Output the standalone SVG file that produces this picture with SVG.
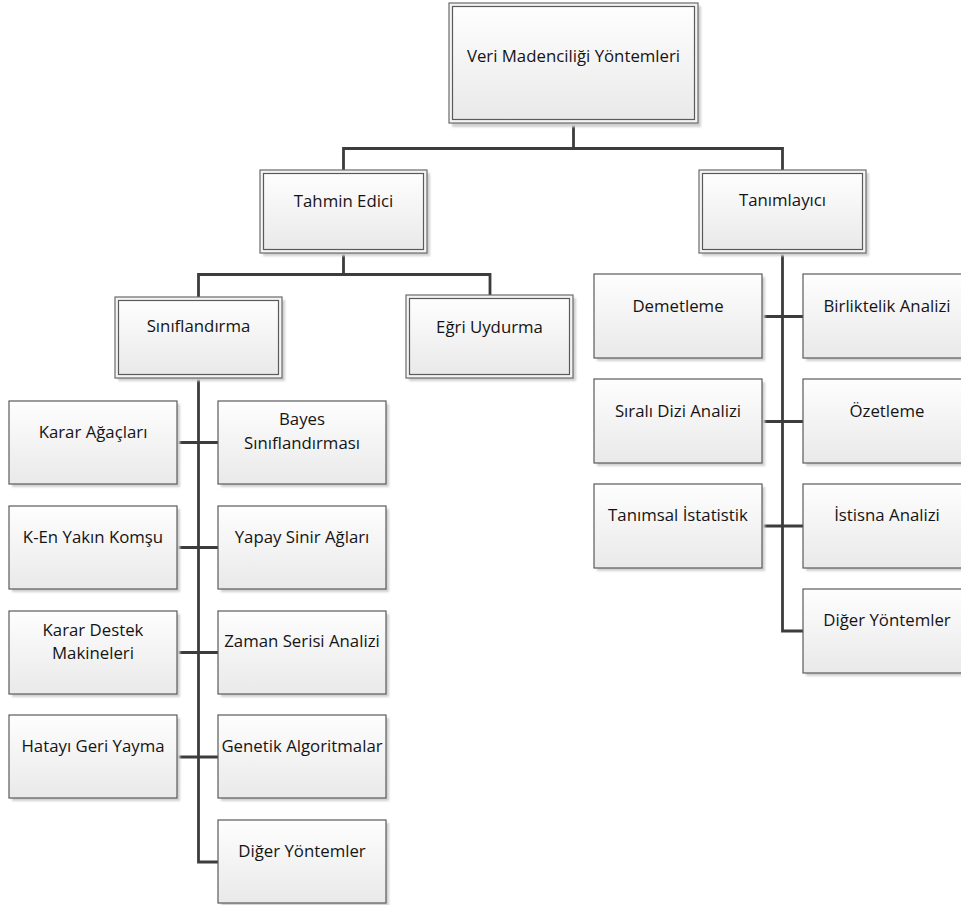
<svg xmlns="http://www.w3.org/2000/svg" width="961" height="905" viewBox="0 0 961 905">
  <defs>
    <linearGradient id="boxFill" x1="0" y1="0" x2="0" y2="1">
      <stop offset="0" stop-color="#fefefe"/>
      <stop offset="1" stop-color="#e9e9e9"/>
    </linearGradient>
    <filter id="soft" x="-10%" y="-10%" width="130%" height="130%">
      <feGaussianBlur stdDeviation="1"/>
    </filter>
  </defs>
  <style>
    .shadow { fill: #cfcfcf; filter: url(#soft); }
    .box { fill: url(#boxFill); stroke: #5a5a5a; stroke-width: 1.2; }
    .outer { fill: #f4f4f4; stroke: #6a6a6a; stroke-width: 1.2; }
    .inner { fill: url(#boxFill); stroke: #5a5a5a; stroke-width: 1.2; }
    .lbl { font-family: "Open Sans", "Noto Sans", sans-serif; font-size: 16.8px; fill: #141414; text-anchor: middle; }
    .wire { fill: none; stroke: #3c3c3c; stroke-width: 2.8; stroke-linejoin: miter; }
  </style>

  <rect width="961" height="905" fill="#ffffff"/>

  <!-- connectors -->
  <g id="connectors">
    <path class="wire" d="M573.5 123 V148.5 M343.5 148.5 H782.5 M343.5 147 V170 M782.5 147 V170"/>
    <path class="wire" d="M343.5 253 V274.5 M198.5 274.5 H490 M198.5 273 V297 M490 273 V295"/>
    <path class="wire" d="M198.5 378 V862 H218 M177 442.5 H218 M177 547.5 H218 M177 652.5 H218 M177 757 H218"/>
    <path class="wire" d="M782.5 253 V631 H803 M762 316.5 H803 M762 421.5 H803 M762 526 H803"/>
  </g>

  <!-- top level -->
  <g id="n-root">
    <rect class="shadow" x="452" y="6" width="249" height="121"/>
    <rect class="outer" x="449" y="3" width="249" height="120"/>
    <rect class="inner" x="452.5" y="6.5" width="242" height="113"/>
    <text class="lbl" x="573.5" y="62">Veri Madenciliği Yöntemleri</text>
  </g>

  <!-- second level -->
  <g id="n-tahmin">
    <rect class="shadow" x="263" y="173" width="167" height="83"/>
    <rect class="outer" x="260" y="170" width="167" height="83"/>
    <rect class="inner" x="263.5" y="173.5" width="160" height="76"/>
    <text class="lbl" x="343.5" y="207">Tahmin Edici</text>
  </g>
  <g id="n-tanimlayici">
    <rect class="shadow" x="702" y="173" width="167" height="83"/>
    <rect class="outer" x="699" y="170" width="167" height="83"/>
    <rect class="inner" x="702.5" y="173.5" width="160" height="76"/>
    <text class="lbl" x="782.5" y="206">Tanımlayıcı</text>
  </g>

  <!-- third level -->
  <g id="n-siniflandirma">
    <rect class="shadow" x="118" y="300" width="167" height="81"/>
    <rect class="outer" x="115" y="297" width="167" height="81"/>
    <rect class="inner" x="118.5" y="300.5" width="160" height="74"/>
    <text class="lbl" x="198.5" y="332">Sınıflandırma</text>
  </g>
  <g id="n-egri">
    <rect class="shadow" x="409" y="298" width="167" height="83"/>
    <rect class="outer" x="406" y="295" width="167" height="83"/>
    <rect class="inner" x="409.5" y="298.5" width="160" height="76"/>
    <text class="lbl" x="489.5" y="333">Eğri Uydurma</text>
  </g>

  <!-- classification methods, left column -->
  <g id="n-karar-agaclari">
    <rect class="shadow" x="12" y="404" width="168" height="83"/>
    <rect class="box" x="9" y="401" width="168" height="83"/>
    <text class="lbl" x="93" y="437.5">Karar Ağaçları</text>
  </g>
  <g id="n-k-en-yakin">
    <rect class="shadow" x="12" y="509" width="168" height="83"/>
    <rect class="box" x="9" y="506" width="168" height="83"/>
    <text class="lbl" x="93" y="542.5">K-En Yakın Komşu</text>
  </g>
  <g id="n-karar-destek">
    <rect class="shadow" x="12" y="614" width="168" height="83"/>
    <rect class="box" x="9" y="611" width="168" height="83"/>
    <text class="lbl" x="93" y="636">Karar Destek</text>
    <text class="lbl" x="93" y="659">Makineleri</text>
  </g>
  <g id="n-hatayi">
    <rect class="shadow" x="12" y="718" width="168" height="83"/>
    <rect class="box" x="9" y="715" width="168" height="83"/>
    <text class="lbl" x="93" y="751.5">Hatayı Geri Yayma</text>
  </g>

  <!-- classification methods, right column -->
  <g id="n-bayes">
    <rect class="shadow" x="221" y="404" width="168" height="83"/>
    <rect class="box" x="218" y="401" width="168" height="83"/>
    <text class="lbl" x="302" y="425">Bayes</text>
    <text class="lbl" x="302" y="449">Sınıflandırması</text>
  </g>
  <g id="n-yapay">
    <rect class="shadow" x="221" y="509" width="168" height="83"/>
    <rect class="box" x="218" y="506" width="168" height="83"/>
    <text class="lbl" x="302" y="542.5">Yapay Sinir Ağları</text>
  </g>
  <g id="n-zaman">
    <rect class="shadow" x="221" y="614" width="168" height="83"/>
    <rect class="box" x="218" y="611" width="168" height="83"/>
    <text class="lbl" x="302" y="647">Zaman Serisi Analizi</text>
  </g>
  <g id="n-genetik">
    <rect class="shadow" x="221" y="718" width="168" height="83"/>
    <rect class="box" x="218" y="715" width="168" height="83"/>
    <text class="lbl" x="302" y="751.5">Genetik Algoritmalar</text>
  </g>
  <g id="n-diger-1">
    <rect class="shadow" x="221" y="823" width="168" height="83"/>
    <rect class="box" x="218" y="820" width="168" height="83"/>
    <text class="lbl" x="302" y="856.5">Diğer Yöntemler</text>
  </g>

  <!-- descriptive methods, left column -->
  <g id="n-demetleme">
    <rect class="shadow" x="597" y="277" width="168" height="84"/>
    <rect class="box" x="594" y="274" width="168" height="84"/>
    <text class="lbl" x="678" y="311.5">Demetleme</text>
  </g>
  <g id="n-sirali">
    <rect class="shadow" x="597" y="382" width="168" height="84"/>
    <rect class="box" x="594" y="379" width="168" height="84"/>
    <text class="lbl" x="678" y="416.5">Sıralı Dizi Analizi</text>
  </g>
  <g id="n-tanimsal">
    <rect class="shadow" x="597" y="487" width="168" height="84"/>
    <rect class="box" x="594" y="484" width="168" height="84"/>
    <text class="lbl" x="678" y="521">Tanımsal İstatistik</text>
  </g>

  <!-- descriptive methods, right column -->
  <g id="n-birliktelik">
    <rect class="shadow" x="806" y="277" width="168" height="84"/>
    <rect class="box" x="803" y="274" width="168" height="84"/>
    <text class="lbl" x="887" y="311.5">Birliktelik Analizi</text>
  </g>
  <g id="n-ozetleme">
    <rect class="shadow" x="806" y="382" width="168" height="84"/>
    <rect class="box" x="803" y="379" width="168" height="84"/>
    <text class="lbl" x="887" y="416.5">Özetleme</text>
  </g>
  <g id="n-istisna">
    <rect class="shadow" x="806" y="487" width="168" height="84"/>
    <rect class="box" x="803" y="484" width="168" height="84"/>
    <text class="lbl" x="887" y="521">İstisna Analizi</text>
  </g>
  <g id="n-diger-2">
    <rect class="shadow" x="806" y="592" width="168" height="84"/>
    <rect class="box" x="803" y="589" width="168" height="84"/>
    <text class="lbl" x="887" y="626">Diğer Yöntemler</text>
  </g>
</svg>
